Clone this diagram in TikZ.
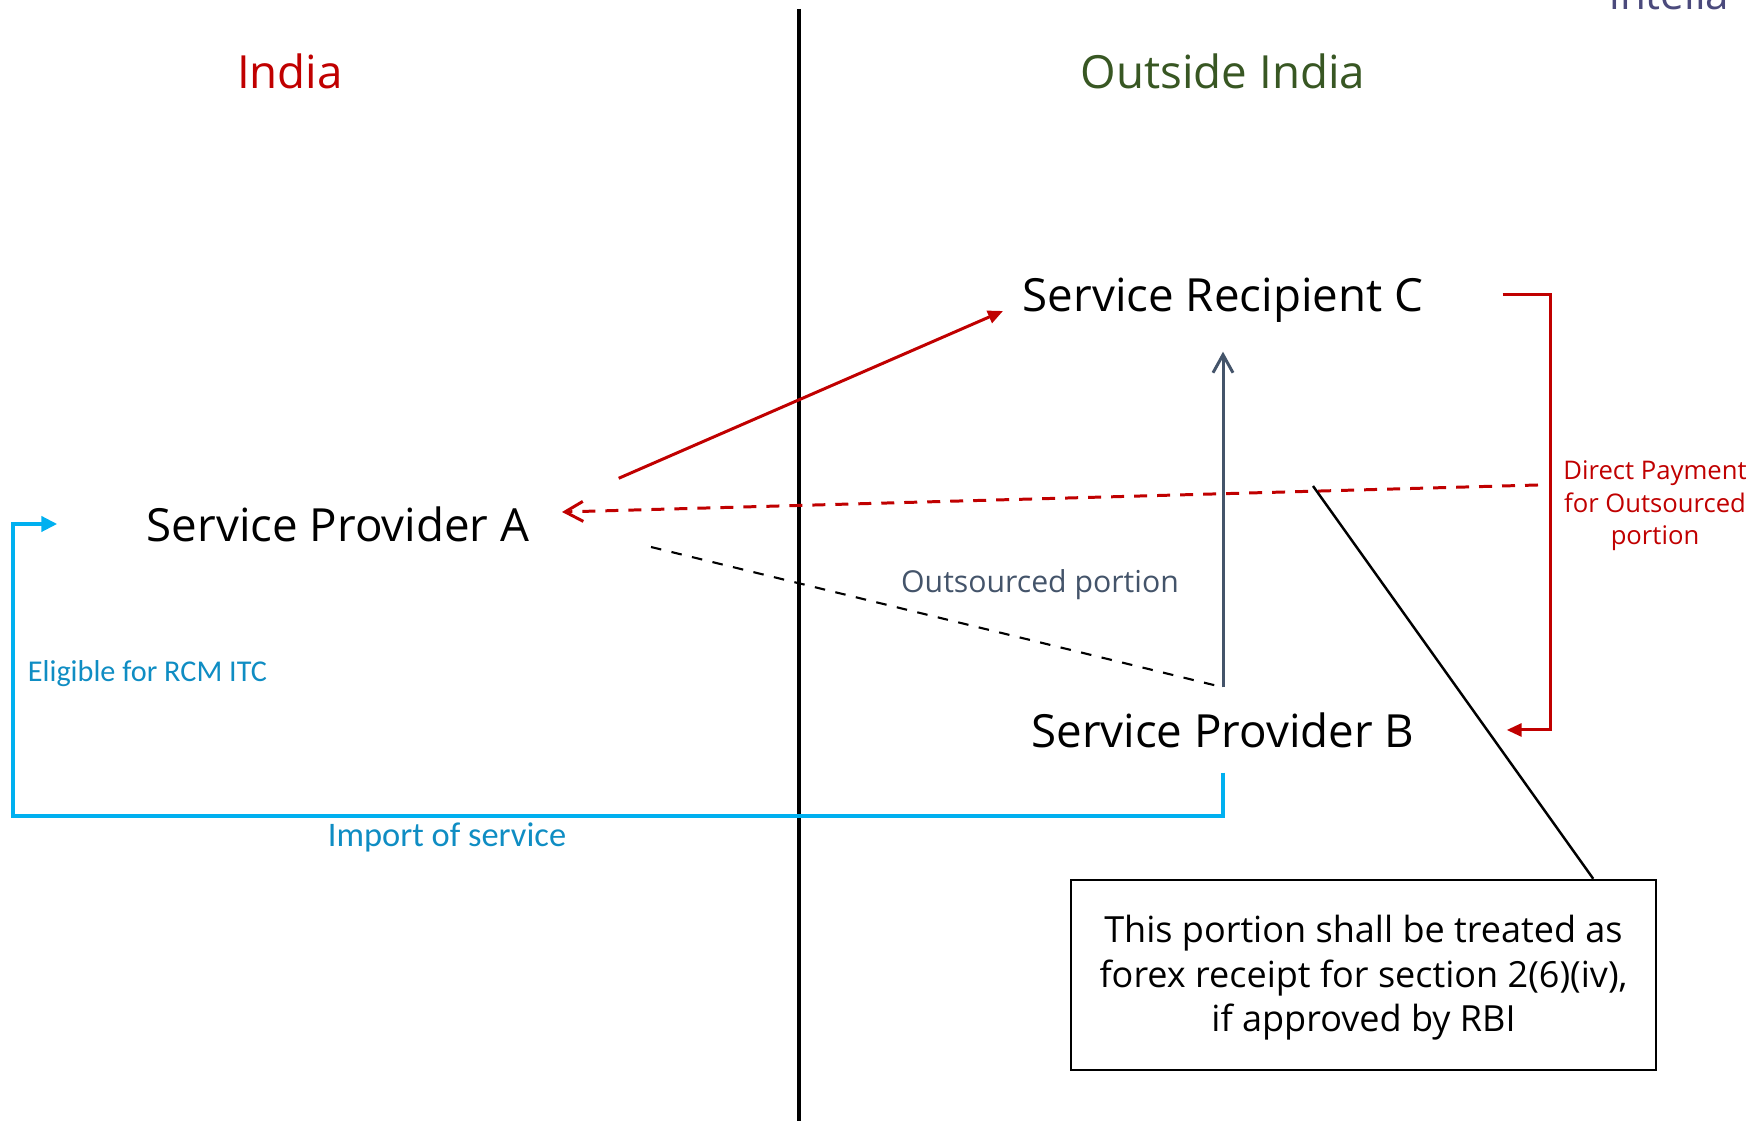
\documentclass[tikz,border=0pt]{standalone}
\usepackage{fontspec}
\setmainfont{Open Sans}
\newfontfamily\calibri{Carlito}
\usetikzlibrary{arrows.meta,positioning}

\definecolor{indred}{HTML}{C00000}
\definecolor{outgreen}{HTML}{385723}
\definecolor{impcyan}{HTML}{00B0F0}
\definecolor{imptext}{HTML}{0F8DC3}
\definecolor{slate}{HTML}{44546A}
\definecolor{logoblue}{HTML}{4B4A7C}

\begin{document}
\begin{tikzpicture}[
    heading/.style={font=\fontsize{13}{15}\selectfont},
    party/.style={font=\fontsize{13}{15}\selectfont, inner sep=0pt, text depth=0pt},
    pay/.style={indred, line width=0.85pt, -{Triangle[length=1.5mm,width=1.3mm]}},
    payback/.style={indred, line width=0.85pt, dash pattern=on 1.3mm off 1mm, -{Straight Barb[length=1.8mm,width=2mm]}},
    outs/.style={slate, line width=0.85pt, -{Straight Barb[length=1.8mm,width=2mm]}},
    imp/.style={impcyan, line width=1.2pt, -{Triangle[length=1.6mm,width=1.5mm]}},
    smalltext/.style={font=\calibri\fontsize{9.8}{12}\selectfont, text=imptext}]
    \useasboundingbox (0,0) rectangle (17.6,-11.21);

    % border between the two sides
    \draw[line width=1.1pt] (7.99,-0.09) -- (7.99,-11.21);
    \node[font=\fontsize{12}{14}\selectfont, text=logoblue, anchor=base west] (logo) at (15.97,-0.10) {intelia};

    \node[heading, text=indred] (india) at (2.90,-0.71) {India};
    \node[heading, text=outgreen] (outside) at (12.23,-0.71) {Outside India};

    \node[party, minimum width=5.6cm, minimum height=0.9cm] (spa) at (3.38,-5.24) {Service Provider A};
    \node[party, minimum width=5.58cm, minimum height=1.12cm] (src) at (12.23,-2.95) {Service Recipient C};
    \node[party, minimum width=5.66cm, minimum height=0.84cm] (spb) at (12.23,-7.30) {Service Provider B};

    % A bills C
    \coordinate (ctip) at (10.03,-3.11);
    \draw[pay] (spa.north east) -- (ctip);

    % C pays B directly, treated as paid to A
    \draw[pay] (src.east) -- ++(0.48,0) |- (spb.east);
    \coordinate (payend) at (15.38,-4.85);
    \coordinate (paytip) at (5.62,-5.12);
    \draw[payback] (payend) -- (paytip);
    \node[font=\fontsize{7.3}{9.2}\selectfont, text=indred, align=center] (direct) at (16.55,-5.06) {Direct Payment\\for Outsourced\\portion};

    % outsourced portion
    \coordinate (osrc) at (6.51,-5.47);
    \draw[dashed, line width=0.6pt] (osrc) -- (spb.north);
    \draw[outs] (spb.north) -- (src.south);
    \node[font=\fontsize{8.6}{10}\selectfont, text=slate] (outlabel) at (10.40,-5.845) {Outsourced portion};

    % import of service back to A
    \coordinate (rcm) at (0.13,-8.16);
    \draw[imp] (spb.south) |- (rcm) |- (spa.west);
    \node[smalltext, font=\calibri\fontsize{8.6}{10}\selectfont, anchor=west] (itc) at (0.155,-6.74) {Eligible for RCM ITC};
    \node[smalltext] (import) at (4.47,-8.37) {Import of service};

    % note on the forex receipt
    \node[draw, line width=0.7pt, minimum width=5.85cm, minimum height=1.9cm] (note) at (13.635,-9.75) {};
    \node[align=center, font=\fontsize{10.25}{12.7}\selectfont] (notetext) at (13.635,-9.78)
          {This portion shall be treated as\\forex receipt for section 2(6)(iv),\\if approved by RBI};
    \coordinate (pin) at (13.13,-4.86);
    \draw[line width=0.7pt] (pin) -- ([xshift=-6.4mm]note.north east);
\end{tikzpicture}
\end{document}
